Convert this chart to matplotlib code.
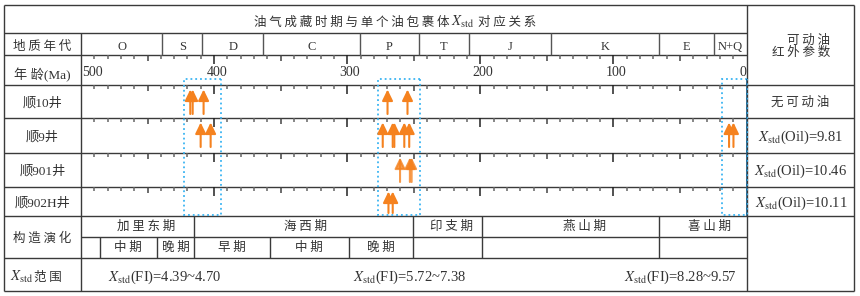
import numpy as np
import matplotlib
matplotlib.use('Agg')
import matplotlib.pyplot as plt
from matplotlib.patches import Rectangle

plt.rcParams['mathtext.fontset'] = 'stix'

# ---------------- data ----------------
title_left = '油气成藏时期与单个油包裹体'
title_right = '对应关系'
periods = ['O', 'S', 'D', 'C', 'P', 'T', 'J', 'K', 'E', 'N+Q']
period_bounds = [500, 439, 409, 363, 290.5, 246, 208.5, 146.6, 65.8, 24.5, 0]
age_labels = [500, 400, 300, 200, 100, 0]
wells = ['顺10井', '顺9井', '顺901井', '顺902H井']
ages_s10 = [417.9, 416.1, 407.9, 269.7, 254.7]
ages_s9 = [410.1, 402.6, 273.3, 265.8, 264.6, 257.1, 253.4, 13.1, 9.8]
ages_s901 = [260.3, 252.9, 251.6]
ages_s902h = [269.0, 265.8]
oil_labels = ['无可动油', '9.81', '10.46', '10.11']
window_old = [422.4, 277.0, 18.5]
window_young = [394.7, 245.0, 0.0]
fi_ranges = ['4.39~4.70', '5.72~7.38', '8.28~9.57']
tect_main = ['加里东期', '海西期', '印支期', '燕山期', '喜山期']
tect_main_bounds = [500, 415, 250.5, 199, 65.8, 0]
tect_sub = ['', '中期', '晚期', '早期', '中期', '晚期', '', '', '']
tect_sub_bounds = [500, 486, 443, 415, 358, 299, 250.5, 199, 65.8, 0]

# ---------------- layout / style ----------------
W, H = 860, 296
XL, XR = 4, 854          # outer border
XC1, XC2 = 81, 746.5     # timeline column
rows = dict(top=5, title=33, per=55, age=85, tect_mid=237, tect=258, bot=291)
well_rows = [85, 118, 153, 187, 216]
fi_label_ages = [437, 253, 50]
tect_main_label_ages = [451, 331, 222, 122, 28]
LC = '#3a3a3a'
ORANGE = '#f5821f'
BLUE = '#3ab4f2'
CJK = ['Noto Sans CJK SC', 'DejaVu Sans']
SERIF = ['Liberation Serif', 'Noto Sans CJK SC', 'DejaVu Sans']
TXT = '#333333'


def sp(s):
    return ' '.join(s)


fig = plt.figure(figsize=(W / 100, H / 100), dpi=100)
ax = fig.add_axes([0, 0, 1, 1])
ax.set_xlim(0, W)
ax.set_ylim(H, 0)
ax.axis('off')

tl = fig.add_axes([XC1 / W, 0, (XC2 - XC1) / W, 1])
tl.set_xlim(500, 0)
tl.set_ylim(H, 0)
tl.axis('off')

# ---------------- table grid ----------------
lw = 1.0
ax.hlines([rows['top'], 85, 118, 153, 187, 216, rows['bot']], XL, XR, color=LC, lw=lw)
ax.hlines([rows['title'], rows['per'], rows['tect']], XL, XC2, color=LC, lw=lw)
ax.hlines([rows['tect_mid']], XC1, XC2, color=LC, lw=lw)
ax.vlines([XL, XR], rows['top'], rows['bot'], color=LC, lw=lw)
ax.vlines([XC1], rows['title'], rows['bot'], color=LC, lw=lw)
ax.vlines([XC2], rows['top'], rows['bot'], color=LC, lw=lw)

tl.vlines(period_bounds[1:-1], rows['title'], rows['per'], color='#555555', lw=lw)
tl.vlines(tect_main_bounds[1:-1], 216, rows['tect_mid'], color=LC, lw=lw)
tl.vlines(tect_sub_bounds[1:-1], rows['tect_mid'], rows['tect'], color=LC, lw=lw)

# ---------------- time ticks ----------------
tick_ma = np.arange(10, 500, 10)
for top in [rows['per']] + well_rows[:-1]:
    for t in tick_ma:
        if t % 100 == 0:
            L, c = 9, '#222222'
        elif t % 50 == 0:
            L, c = 6, '#444444'
        else:
            L, c = 4, '#666666'
        tl.vlines(t, top, top + L, color=c, lw=1.1)

for a in age_labels:
    if a == 500:
        tl.text(a - 0.5, 76, str(a), ha='left', va='baseline', family=SERIF, size=10, color=TXT)
    elif a == 0:
        tl.text(a + 0.3, 76, str(a), ha='right', va='baseline', family=SERIF, size=10, color=TXT)
    else:
        tl.text(a - 2, 76, str(a), ha='center', va='baseline', family=SERIF, size=10, color=TXT)

# periods
for i, p in enumerate(periods):
    mid = (period_bounds[i] + period_bounds[i + 1]) / 2
    tl.text(mid, 50, p, ha='center', va='baseline', family=SERIF, size=9, color=TXT)

# ---------------- charge windows ----------------
for o, y in zip(window_old, window_young):
    tl.add_patch(Rectangle((y, 79), o - y, 135.5, fill=False, ls=':', ec=BLUE, lw=1.3,
                           clip_on=False, zorder=3))
tl.vlines(0, 79, 216, color='#1d5d86', lw=1.2, zorder=4)

# ---------------- arrows ----------------
well_ages = [ages_s10, ages_s9, ages_s901, ages_s902h]
well_alpha = [1.0, 1.0, 0.8, 1.0]
for r, ages in enumerate(well_ages):
    top, bottom = well_rows[r], well_rows[r + 1]
    tip = top + 4.5
    base = min(top + 29, bottom - 3)
    for a in ages:
        tl.annotate('', xy=(a, tip), xytext=(a, base),
                    arrowprops=dict(arrowstyle='-|>,head_length=0.66,head_width=0.32',
                                    mutation_scale=10, lw=1.5, color=ORANGE,
                                    shrinkA=0, shrinkB=0, alpha=well_alpha[r]),
                    zorder=5)

# ---------------- texts ----------------
ax.text(450, 25.5, sp(title_left), ha='right', va='baseline', family=CJK, size=9, color=TXT)
ax.text(451, 25.5, r'$X_{\rm std}$', ha='left', va='baseline', size=10.5, color=TXT)
ax.text(477.5, 25.5, sp(title_right), ha='left', va='baseline', family=CJK, size=9, color=TXT)

cx = (XL + XC1) / 2
ax.text(cx, 46, sp('地质年代'), ha='center', va='center', family=CJK, size=9, color=TXT)
ax.text(cx, 75, '年 龄(Ma)', ha='center', va='center', family=SERIF, size=9.5, color=TXT)
for i, w in enumerate(wells):
    yc = (well_rows[i] + well_rows[i + 1]) / 2 + 1.5
    ax.text(cx, yc, w, ha='center', va='center', family=SERIF, size=9.5, color=TXT)
ax.text(cx, 238, sp('构造演化'), ha='center', va='center', family=CJK, size=9, color=TXT)
ax.text(33, 281, r'$X_{\rm std}$', ha='right', va='baseline', size=10.5, color=TXT)
ax.text(34, 281, sp('范围'), ha='left', va='baseline', family=CJK, size=9, color=TXT)

# right column
ax.text(830, 40.5, sp('可动油'), ha='right', va='center', family=CJK, size=9, color=TXT)
ax.text(830, 52.5, sp('红外参数'), ha='right', va='center', family=CJK, size=9, color=TXT)
for i, v in enumerate(oil_labels):
    yc = (well_rows[i] + well_rows[i + 1]) / 2
    if i == 0:
        ax.text(800, yc + 1, sp(v), ha='center', va='center', family=CJK, size=9, color=TXT)
    else:
        ax.text(801, yc + 5, r'$X_{\rm std}$(Oil)=' + v, ha='center', va='baseline',
                family=SERIF, size=10.5, color=TXT)

# tectonic
for name, a in zip(tect_main, tect_main_label_ages):
    tl.text(a, 226.5, sp(name), ha='center', va='center', family=CJK, size=9, color=TXT)
for i, name in enumerate(tect_sub):
    if name:
        mid = (tect_sub_bounds[i] + tect_sub_bounds[i + 1]) / 2
        tl.text(mid, 247.5, sp(name), ha='center', va='center', family=CJK, size=9, color=TXT)

# FI ranges
for a, rg in zip(fi_label_ages, fi_ranges):
    tl.text(a, 281, r'$X_{\rm std}$(FI)=' + rg, ha='center', va='baseline',
            family=SERIF, size=10.5, color=TXT)

fig.savefig('out.png', dpi=100)
